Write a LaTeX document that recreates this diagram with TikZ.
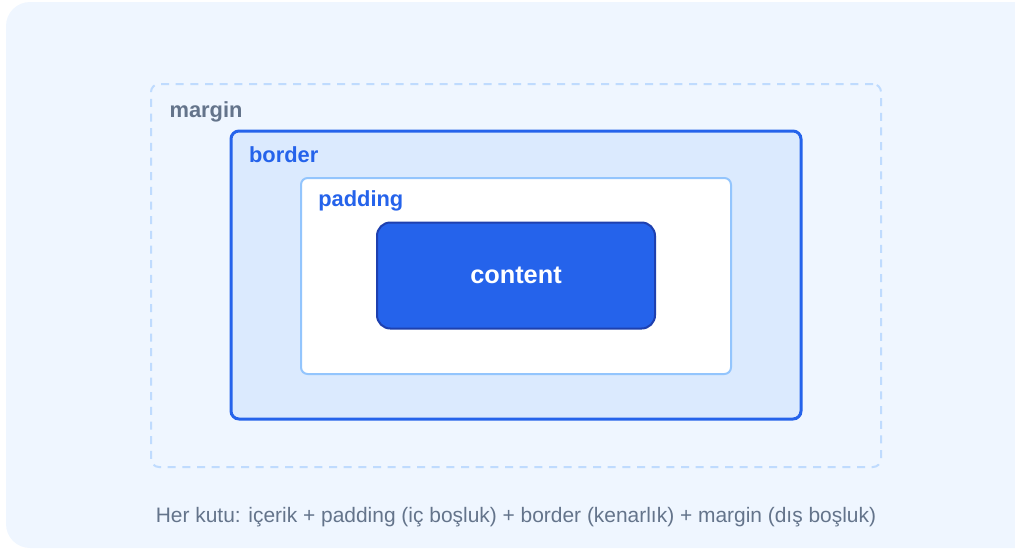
\documentclass[tikz,border=0pt]{standalone}
\usepackage{fontspec}
\setmainfont{Liberation Sans}
\usepackage{xcolor}
\usepackage{tikz}
\usetikzlibrary{positioning}
\definecolor{pageblue}{HTML}{EFF6FF}
\definecolor{dashblue}{HTML}{BFDBFE}
\definecolor{mainblue}{HTML}{2563EB}
\definecolor{lightblue}{HTML}{DBEAFE}
\definecolor{padblue}{HTML}{93C5FD}
\definecolor{darkblue}{HTML}{1E40AF}
\definecolor{slate}{HTML}{64748B}
\tikzset{
  x=0.75pt, y=-0.75pt,                     % pixel grid, y pointing down
  marginbox/.style  = {rectangle, draw=dashblue, line width=1.5pt,
                       dash pattern=on 6pt off 5pt, rounded corners=6pt,
                       minimum width=547.5pt, minimum height=287.25pt},
  borderbox/.style  = {rectangle, draw=mainblue, fill=lightblue,
                       line width=2.25pt, rounded corners=6pt,
                       minimum width=427.5pt, minimum height=216pt},
  paddingbox/.style = {rectangle, draw=padblue, fill=white,
                       line width=1.5pt, rounded corners=5pt,
                       minimum width=322.5pt, minimum height=147pt},
  contentbox/.style = {rectangle, draw=darkblue, fill=mainblue,
                       line width=1.5pt, rounded corners=10pt,
                       minimum width=208.5pt, minimum height=79.5pt,
                       text=white, font=\fontsize{19}{22}\selectfont\bfseries},
  boxlabel/.style   = {anchor=base west, inner sep=0pt,
                       font=\fontsize{16.4}{19}\selectfont\bfseries}
}

\begin{document}
\begin{tikzpicture}
  \clip (0,0) rectangle (1015,551);
  % page background
  \fill[pageblue, rounded corners=18pt] (6,2) rectangle (1040,548);

  % nested boxes, outside in
  \node[marginbox]  (margin)  at (516,275.5) {};
  \node[borderbox]  (border)  at (516,275)   {};
  \node[paddingbox] (padding) at (516,276)   {};
  \node[contentbox] (content) at (516,275.5) {content};

  % labels in the top left corner of each box
  \node[boxlabel, slate]    (marginlbl)  at ([xshift=14.5pt, yshift=-26pt]margin.north west)  {margin};
  \node[boxlabel, mainblue] (borderlbl)  at ([xshift=14.5pt, yshift=-25pt]border.north west)  {border};
  \node[boxlabel, mainblue] (paddinglbl) at ([xshift=13.5pt, yshift=-22pt]padding.north west) {padding};

  \node[slate, font=\fontsize{15.7}{19}\selectfont, anchor=base] (caption) at (516,522)
    {Her kutu: içerik + padding (iç boşluk) + border (kenarlık) + margin (dış boşluk)};
\end{tikzpicture}
\end{document}
